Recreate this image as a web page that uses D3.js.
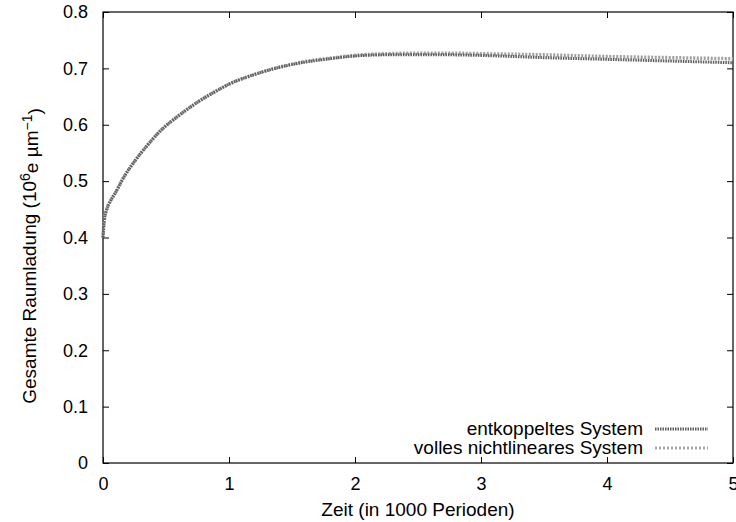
<!DOCTYPE html>
<html>
<head>
<meta charset="utf-8">
<script src="https://cdn.jsdelivr.net/npm/d3@7"></script>
<style>
  html, body { margin: 0; padding: 0; background: #fff; }
  svg text { font-family: "Liberation Sans", Arial, Helvetica, sans-serif; fill: #000; }
</style>
</head>
<body>
<svg id="chart" width="736" height="522"></svg>
<script>
// Time in units of 1000 periods
const zeit = [0, 0.01, 0.03, 0.06, 0.1, 0.16, 0.25, 0.35, 0.45, 0.6, 0.75, 0.9, 1.0, 1.2, 1.4, 1.6, 1.8, 2.0, 2.25, 2.5, 2.75, 3.0, 3.5, 4.0, 4.5, 5.0];
// Total space charge (10^6 e / µm), decoupled system
const entkoppelt = [0.400, 0.430, 0.450, 0.465, 0.480, 0.505, 0.535, 0.563, 0.588, 0.616, 0.640, 0.660, 0.672, 0.689, 0.702, 0.711, 0.717, 0.722, 0.724, 0.724, 0.724, 0.723, 0.719, 0.716, 0.713, 0.710];
// Total space charge, full nonlinear system
const vollesSystem = [0.400, 0.430, 0.450, 0.465, 0.480, 0.505, 0.535, 0.563, 0.588, 0.616, 0.640, 0.660, 0.672, 0.689, 0.702, 0.712, 0.718, 0.723, 0.726, 0.727, 0.727, 0.726, 0.724, 0.721, 0.719, 0.717];
const legendLabels = ["entkoppeltes System", "volles nichtlineares System"];
const xTicks = [0, 1, 2, 3, 4, 5];
const yTicks = [0, 0.1, 0.2, 0.3, 0.4, 0.5, 0.6, 0.7, 0.8];

const svg = d3.select("#chart");
const m = { left: 103, right: 733, top: 12, bottom: 463 };
const x = d3.scaleLinear().domain([0, 5]).range([m.left, m.right]);
const y = d3.scaleLinear().domain([0, 0.8]).range([m.bottom, m.top]);
const fmtY = d => d === 0 ? "0" : d3.format(".1f")(d);
const tickLen = 6;

// Axes with inward ticks, mirrored on top and right
const axB = svg.append("g").attr("transform", `translate(0,${m.bottom})`)
  .call(d3.axisBottom(x).tickValues(xTicks).tickFormat(d3.format("d")).tickSizeInner(-tickLen).tickSizeOuter(0).tickPadding(14));
const axT = svg.append("g").attr("transform", `translate(0,${m.top})`)
  .call(d3.axisTop(x).tickValues(xTicks).tickFormat("").tickSizeInner(-tickLen).tickSizeOuter(0));
const axL = svg.append("g").attr("transform", `translate(${m.left},0)`)
  .call(d3.axisLeft(y).tickValues(yTicks).tickFormat(fmtY).tickSizeInner(-tickLen).tickSizeOuter(0).tickPadding(15));
const axR = svg.append("g").attr("transform", `translate(${m.right},0)`)
  .call(d3.axisRight(y).tickValues(yTicks).tickFormat("").tickSizeInner(-tickLen).tickSizeOuter(0));

[axB, axT, axL, axR].forEach(g => {
  g.select(".domain").remove();
  g.selectAll(".tick line").attr("stroke", "#000").attr("stroke-width", 1);
  g.selectAll("text").style("font-size", "18px").attr("fill", "#000");
});
axB.selectAll("text").attr("dy", "0.71em");

// Plot frame
svg.append("rect").attr("x", m.left).attr("y", m.top)
  .attr("width", m.right - m.left).attr("height", m.bottom - m.top)
  .attr("fill", "none").attr("stroke", "#000").attr("stroke-width", 1.2);

// Curves
const line = d3.line().x(d => x(d[0])).y(d => y(d[1])).curve(d3.curveMonotoneX);
const seriesA = zeit.map((t, i) => [t, entkoppelt[i]]);
const seriesB = zeit.map((t, i) => [t, vollesSystem[i]]);

svg.append("path").datum(seriesB).attr("d", line)
  .attr("fill", "none").attr("stroke", "#a0a0a0").attr("stroke-width", 3.5)
  .attr("stroke-dasharray", "2,1.5");
svg.append("path").datum(seriesA).attr("d", line)
  .attr("fill", "none").attr("stroke", "#5e5e5e").attr("stroke-width", 3)
  .attr("stroke-dasharray", "1.5,1");

// Legend
const legend = svg.append("g");
const legendStyles = [
  { stroke: "#5e5e5e", width: 3, dash: "1.5,1" },
  { stroke: "#a8a8a8", width: 3, dash: "2,2" }
];
legendLabels.forEach((lab, i) => {
  const by = 435 + i * 19;
  legend.append("text").attr("x", 643).attr("y", by)
    .attr("text-anchor", "end").style("font-size", "19px").text(lab);
  legend.append("line").attr("x1", 655).attr("x2", 708)
    .attr("y1", by - 6).attr("y2", by - 6)
    .attr("stroke", legendStyles[i].stroke).attr("stroke-width", legendStyles[i].width)
    .attr("stroke-dasharray", legendStyles[i].dash);
});

// Axis titles
svg.append("text").attr("x", 418).attr("y", 516)
  .attr("text-anchor", "middle").style("font-size", "19px")
  .text("Zeit (in 1000 Perioden)");

const yt = svg.append("text")
  .attr("transform", "translate(36,256) rotate(-90)")
  .attr("text-anchor", "middle").style("font-size", "19px");
yt.append("tspan").text("Gesamte Raumladung (10");
yt.append("tspan").attr("dy", "-0.45em").style("font-size", "14px").text("6");
yt.append("tspan").attr("dy", "0.45em").text("e µm");
yt.append("tspan").attr("dy", "-0.45em").style("font-size", "14px").text("−1");
yt.append("tspan").attr("dy", "0.45em").text(")");
</script>
</body>
</html>
